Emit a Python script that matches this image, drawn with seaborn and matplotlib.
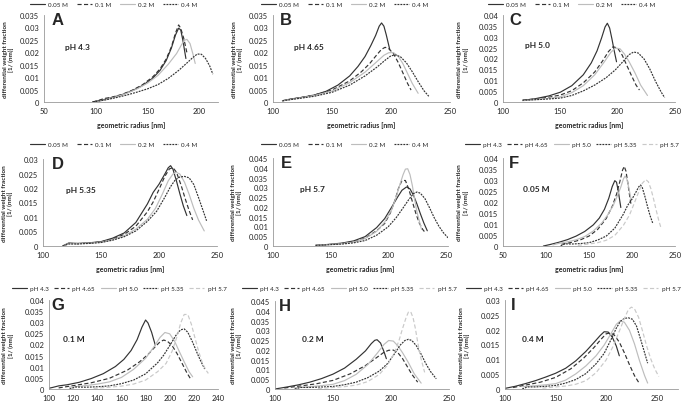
import matplotlib
matplotlib.use('Agg')
import matplotlib.pyplot as plt
import matplotlib.ticker as tick
import seaborn as sns

# radius [nm] / differential weight fraction
# pH 4.3
r43_005 = [97, 105, 115, 125, 135, 145, 155, 162, 168, 173, 177, 180, 182, 184, 187]
w43_005 = [0, 0.0007, 0.0017, 0.0029, 0.0045, 0.0066, 0.0096, 0.0127, 0.0167, 0.0217, 0.027, 0.0297, 0.029, 0.025, 0.0175]
r43_01 = [97, 103, 108, 115, 125, 135, 145, 155, 162, 168, 173, 177, 180, 182, 185, 188]
w43_01 = [0, 0.0007, 0.0014, 0.0019, 0.003, 0.0047, 0.0069, 0.0101, 0.0133, 0.0173, 0.0222, 0.0278, 0.031, 0.0297, 0.0255, 0.0198]
r43_02 = [100, 110, 120, 130, 140, 150, 160, 170, 178, 183, 186, 188, 191, 194, 196]
w43_02 = [0, 0.001, 0.0021, 0.0035, 0.0053, 0.0076, 0.0107, 0.0152, 0.0195, 0.0232, 0.0249, 0.0252, 0.0235, 0.019, 0.0155]
r43_04 = [97, 110, 120, 130, 140, 150, 160, 170, 180, 188, 194, 198, 202, 206, 210, 213]
w43_04 = [0, 0.0009, 0.0018, 0.0028, 0.004, 0.0053, 0.007, 0.0095, 0.0127, 0.0157, 0.018, 0.0193, 0.0192, 0.0175, 0.0145, 0.0112]
# pH 4.65
r465_005 = [108, 115, 125, 135, 145, 155, 165, 172, 178, 183, 187, 190, 192, 194, 196, 199]
w465_005 = [0.0005, 0.0012, 0.0019, 0.0028, 0.0043, 0.0068, 0.0105, 0.0143, 0.0183, 0.0228, 0.0268, 0.0305, 0.0318, 0.0305, 0.027, 0.021]
r465_01 = [108, 120, 135, 150, 165, 175, 182, 188, 192, 195, 198, 202, 206, 210, 214, 217]
w465_01 = [0.0005, 0.0015, 0.0028, 0.0048, 0.0085, 0.0122, 0.0155, 0.019, 0.0212, 0.022, 0.0215, 0.0195, 0.016, 0.0118, 0.0075, 0.0048]
r465_02 = [108, 120, 135, 150, 165, 178, 187, 194, 198, 202, 206, 210, 214, 218, 223]
w465_02 = [0.0005, 0.0014, 0.0026, 0.0044, 0.0078, 0.012, 0.0158, 0.0188, 0.0198, 0.0199, 0.0185, 0.0155, 0.0115, 0.0075, 0.0035]
r465_04 = [108, 120, 135, 150, 165, 178, 188, 195, 200, 204, 208, 213, 218, 223, 228, 232]
w465_04 = [0.0005, 0.0013, 0.0023, 0.0039, 0.0068, 0.0105, 0.014, 0.0168, 0.0186, 0.0189, 0.0182, 0.0158, 0.0122, 0.0082, 0.0045, 0.0023]
# pH 5.0
r50_005 = [118, 128, 140, 150, 160, 170, 177, 182, 186, 189, 191, 193, 195, 197, 199]
w50_005 = [0.0008, 0.0015, 0.0028, 0.0045, 0.0075, 0.0125, 0.018, 0.0235, 0.0295, 0.0345, 0.0362, 0.034, 0.029, 0.0235, 0.0185]
r50_01 = [117, 130, 140, 150, 160, 170, 180, 187, 192, 196, 200, 204, 208, 212, 216, 219]
w50_01 = [0.0008, 0.0015, 0.0022, 0.0032, 0.0052, 0.0088, 0.0138, 0.019, 0.0232, 0.0254, 0.0248, 0.0215, 0.0168, 0.0122, 0.0078, 0.0055]
r50_02 = [117, 130, 140, 150, 160, 170, 180, 188, 194, 198, 202, 206, 210, 215, 220, 226]
w50_02 = [0.0006, 0.0012, 0.0017, 0.0024, 0.0043, 0.0075, 0.0125, 0.0182, 0.0228, 0.0248, 0.0245, 0.022, 0.0185, 0.0135, 0.0078, 0.003]
r50_04 = [117, 130, 140, 150, 160, 170, 180, 190, 198, 205, 210, 214, 218, 223, 228, 233, 238, 241]
w50_04 = [0.0008, 0.0011, 0.0014, 0.0018, 0.003, 0.0051, 0.0078, 0.0112, 0.0148, 0.0188, 0.0218, 0.023, 0.0225, 0.0198, 0.0152, 0.0095, 0.0045, 0.002]
# pH 5.35
r535_005 = [117, 122, 130, 140, 150, 160, 170, 180, 190, 195, 200, 205, 208, 210, 212, 215, 218, 221, 224]
w535_005 = [0, 0.001, 0.0009, 0.0011, 0.0015, 0.0027, 0.0045, 0.0081, 0.0145, 0.0185, 0.0213, 0.0248, 0.027, 0.0277, 0.0265, 0.0225, 0.018, 0.0138, 0.0105]
r535_01 = [117, 122, 130, 140, 150, 160, 170, 180, 190, 195, 200, 205, 209, 212, 215, 219, 223, 226, 229]
w535_01 = [0, 0.0009, 0.0008, 0.001, 0.0014, 0.0024, 0.004, 0.0068, 0.0118, 0.0152, 0.0195, 0.024, 0.0266, 0.027, 0.0255, 0.021, 0.0158, 0.0122, 0.009]
r535_02 = [117, 122, 130, 140, 150, 160, 170, 180, 190, 197, 203, 208, 212, 215, 218, 222, 226, 230, 234, 239]
w535_02 = [0, 0.0008, 0.0008, 0.001, 0.0013, 0.0022, 0.0035, 0.0058, 0.0092, 0.013, 0.018, 0.0225, 0.0248, 0.0254, 0.0248, 0.022, 0.0178, 0.013, 0.009, 0.0052]
r535_04 = [117, 122, 130, 140, 150, 160, 170, 180, 190, 198, 205, 210, 214, 218, 222, 226, 230, 234, 238, 241]
w535_04 = [0, 0.0007, 0.0007, 0.0009, 0.0012, 0.002, 0.0032, 0.0052, 0.0085, 0.012, 0.0168, 0.0205, 0.0228, 0.0238, 0.024, 0.0235, 0.0212, 0.0168, 0.0122, 0.0087]
# pH 5.7
r57_005 = [137, 150, 160, 170, 180, 190, 197, 203, 208, 212, 216, 219, 222, 225, 228, 231, 234]
w57_005 = [0.0003, 0.0009, 0.0015, 0.0026, 0.0048, 0.0094, 0.014, 0.0198, 0.0248, 0.0285, 0.0302, 0.0292, 0.026, 0.0215, 0.0165, 0.0118, 0.0078]
r57_01 = [137, 150, 160, 170, 180, 190, 197, 202, 206, 209, 212, 215, 218, 221, 224, 227, 230, 232]
w57_01 = [0.0003, 0.0008, 0.0013, 0.0022, 0.004, 0.0078, 0.0115, 0.017, 0.0235, 0.0295, 0.0335, 0.0335, 0.029, 0.0228, 0.0168, 0.0118, 0.0085, 0.007]
r57_02 = [137, 150, 160, 170, 180, 190, 197, 203, 207, 210, 213, 215, 217, 219, 221, 223, 225, 229]
w57_02 = [0.0003, 0.0008, 0.0012, 0.002, 0.0038, 0.0075, 0.0122, 0.0185, 0.025, 0.031, 0.0365, 0.0393, 0.0395, 0.0365, 0.031, 0.024, 0.0175, 0.0085]
r57_04 = [137, 150, 160, 170, 180, 190, 200, 207, 213, 218, 222, 225, 228, 232, 236, 240, 244, 248, 252]
w57_04 = [0.0003, 0.0007, 0.001, 0.0016, 0.0028, 0.0055, 0.0098, 0.0145, 0.0195, 0.0238, 0.0268, 0.0276, 0.027, 0.0242, 0.0195, 0.0145, 0.0102, 0.0068, 0.0042]

conc_labels = ['0.05 M', '0.1 M', '0.2 M', '0.4 M']
ph_labels = ['pH 4.3', 'pH 4.65', 'pH 5.0', 'pH 5.35', 'pH 5.7']

DARK = '#333333'
LIGHT = '#bdbdbd'
conc_styles = [(DARK, '-'), (DARK, (0, (3.5, 2))), (LIGHT, '-'), (DARK, (0, (1.6, 0.9)))]
ph_styles = conc_styles + [('#c9c9c9', (0, (3.5, 2)))]

sns.set_style('white')
plt.rcParams['font.family'] = ['Lato', 'DejaVu Sans']

W, H = 685, 402
fig = plt.figure(figsize=(6.85, 4.02), dpi=100)


def fmt(v, pos):
    return '{:g}'.format(round(v, 4))


def panel(box, curves, labels, styles, xlim, xticks, ymax, ystep, letter, letter_x,
          note, note_xy, leg_x, leg_y, ylab_x, xlabel=True):
    left, right, top, bottom = box
    ax = fig.add_axes([left / W, 1 - bottom / H, (right - left) / W, (bottom - top) / H])
    for (r, w), lab, (c, ls) in zip(curves, labels, styles):
        sns.lineplot(x=r, y=w, ax=ax, color=c, linestyle=ls, linewidth=0.85,
                     sort=False, estimator=None, label=lab)
    ax.set_xlim(*xlim)
    ax.set_xticks(xticks)
    ax.set_ylim(0, ymax)
    ax.yaxis.set_major_locator(tick.MultipleLocator(ystep))
    ax.yaxis.set_major_formatter(tick.FuncFormatter(fmt))
    ax.tick_params(labelsize=5.4, length=2, width=0.5, colors='#888888', labelcolor='#222222', pad=1.5)
    for s in ['top', 'right']:
        ax.spines[s].set_visible(False)
    for s in ['left', 'bottom']:
        ax.spines[s].set_color('#999999')
        ax.spines[s].set_linewidth(0.6)
    ax.set_ylabel('differential weight fraction\n[1/ (nm)]', fontsize=4.6, fontweight='bold',
                  linespacing=1.15)
    ax.yaxis.set_label_coords(ylab_x, 0.5)
    if xlabel:
        ax.set_xlabel('geometric radius [nm]', fontsize=5, fontweight='bold')
        ax.xaxis.set_label_coords(0.5, -0.22)
    else:
        ax.set_xlabel('')
    ax.text(letter_x, 1.03, letter, transform=ax.transAxes, fontsize=12, fontweight='bold',
            va='top', ha='left', family='Liberation Sans')
    ax.text(note_xy[0], note_xy[1], note, transform=ax.transAxes, fontsize=6,
            fontweight='bold', va='center', ha='left')
    ax.legend(loc='center', bbox_to_anchor=(leg_x / W, 1 - leg_y / H),
              bbox_transform=fig.transFigure, ncol=len(labels), frameon=False,
              fontsize=4.5, handlelength=2.4, handletextpad=0.5,
              columnspacing=1.4 if len(labels) == 4 else 0.9)
    return ax


# top row: one pH per panel, four ionic strengths
panel((44, 218, 16, 103), [(r43_005, w43_005), (r43_01, w43_01), (r43_02, w43_02), (r43_04, w43_04)],
      conc_labels, conc_styles, (50, 218), [50, 100, 150, 200], 0.035, 0.005,
      'A', 0.045, 'pH 4.3', (0.12, 0.64), 114, 5, -0.17)
panel((273, 450, 16, 103), [(r465_005, w465_005), (r465_01, w465_01), (r465_02, w465_02), (r465_04, w465_04)],
      conc_labels, conc_styles, (100, 250), [100, 150, 200, 250], 0.035, 0.005,
      'B', 0.04, 'pH 4.65', (0.12, 0.64), 345, 5, -0.167)
panel((503, 675, 16, 103), [(r50_005, w50_005), (r50_01, w50_01), (r50_02, w50_02), (r50_04, w50_04)],
      conc_labels, conc_styles, (100, 250), [100, 150, 200, 250], 0.04, 0.005,
      'C', 0.035, 'pH 5.0', (0.13, 0.66), 572, 5, -0.2)

# middle row
panel((43, 217, 160, 247), [(r535_005, w535_005), (r535_01, w535_01), (r535_02, w535_02), (r535_04, w535_04)],
      conc_labels, conc_styles, (100, 250), [100, 150, 200, 250], 0.03, 0.005,
      'D', 0.05, 'pH 5.35', (0.13, 0.655), 114, 145, -0.17)
panel((273, 448, 159, 247), [(r57_005, w57_005), (r57_01, w57_01), (r57_02, w57_02), (r57_04, w57_04)],
      conc_labels, conc_styles, (100, 252), [100, 150, 200, 250], 0.045, 0.005,
      'E', 0.045, 'pH 5.7', (0.155, 0.655), 345, 145, -0.175)
panel((503, 675, 159, 247),
      [(r43_005, w43_005), (r50_005, w50_005), (r465_005, w465_005), (r535_005, w535_005), (r57_005, w57_005)],
      ph_labels, ph_styles, (50, 250), [50, 100, 150, 200, 250], 0.04, 0.005,
      'F', 0.035, '0.05 M', (0.115, 0.655), 572, 145, -0.2)

# bottom row: one ionic strength per panel, five pH values
panel((49, 218, 301, 390),
      [(r43_01, w43_01), (r465_01, w465_01), (r50_01, w50_01), (r535_01, w535_01), (r57_01, w57_01)],
      ph_labels, ph_styles, (100, 240), list(range(100, 241, 20)), 0.04, 0.005,
      'G', 0.015, '0.1 M', (0.08, 0.57), 119, 289, -0.21, xlabel=False)
panel((275, 449, 302, 390),
      [(r43_02, w43_02), (r465_02, w465_02), (r50_02, w50_02), (r535_02, w535_02), (r57_02, w57_02)],
      ph_labels, ph_styles, (100, 250), [100, 150, 200, 250], 0.045, 0.005,
      'H', 0.025, '0.2 M', (0.155, 0.57), 349, 289, -0.187, xlabel=False)
panel((505, 678, 301, 390),
      [(r43_04, w43_04), (r465_04, w465_04), (r50_04, w50_04), (r535_04, w535_04), (r57_04, w57_04)],
      ph_labels, ph_styles, (100, 271), [100, 150, 200, 250], 0.03, 0.005,
      'I', 0.035, '0.4 M', (0.1, 0.57), 573, 289, -0.2, xlabel=False)

fig.savefig('out.png', dpi=100)
